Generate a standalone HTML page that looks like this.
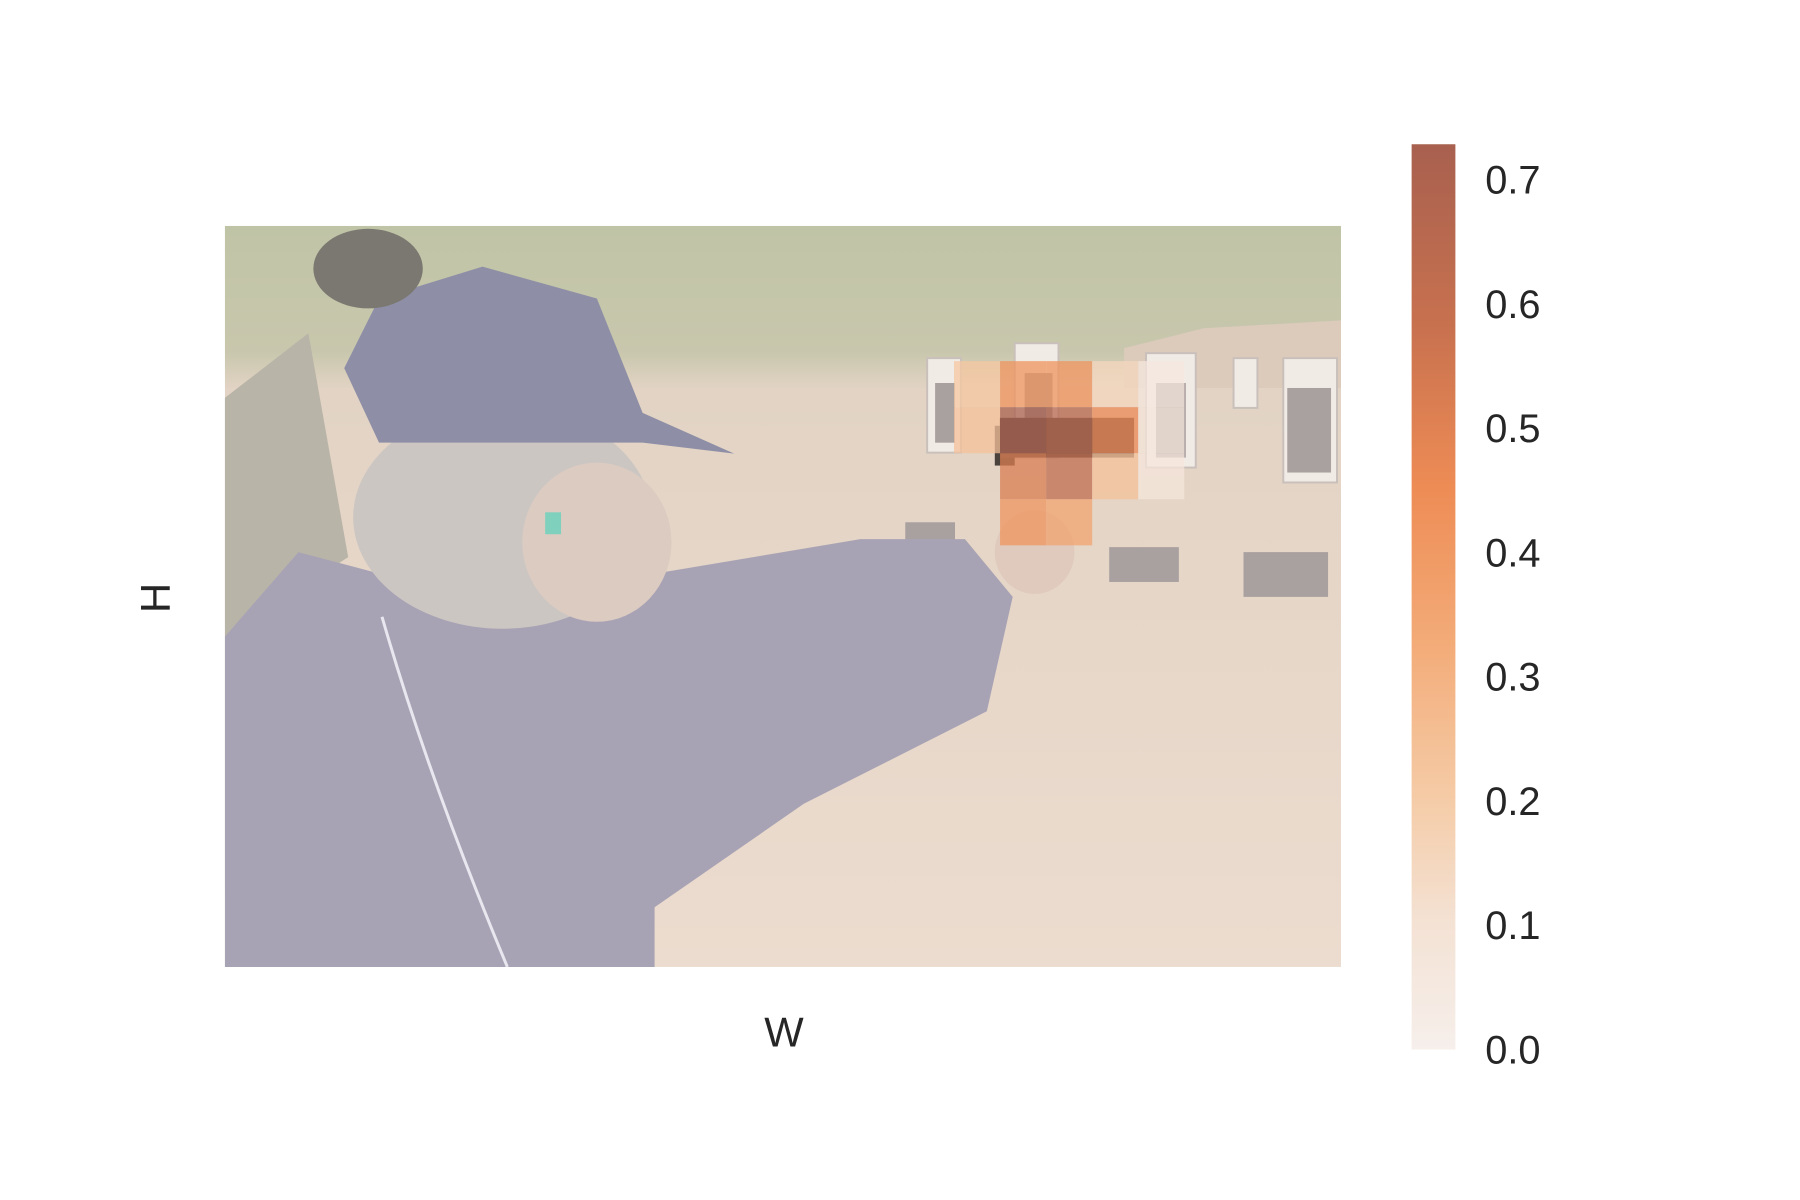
<!DOCTYPE html>
<html><head><meta charset="utf-8"><style>
html,body{margin:0;padding:0;background:#fff;}
svg{display:block;font-family:"Liberation Sans",sans-serif;}
</style></head><body>
<svg id="chart" width="1800" height="1200" viewBox="0 0 1800 1200" xmlns="http://www.w3.org/2000/svg">
<defs>
<linearGradient id="cmap" x1="0" y1="1" x2="0" y2="0">
<stop offset="0" stop-color="#f6efeb"/>
<stop offset="0.14" stop-color="#f4e2d4"/>
<stop offset="0.28" stop-color="#f5cba6"/>
<stop offset="0.45" stop-color="#f3ab78"/>
<stop offset="0.62" stop-color="#ee8c55"/>
<stop offset="0.8" stop-color="#c8714f"/>
<stop offset="1" stop-color="#a8604f"/>
</linearGradient>
<linearGradient id="bg" x1="0" y1="0" x2="0" y2="1">
<stop offset="0" stop-color="#c0c4a6"/>
<stop offset="0.17" stop-color="#c8c7ad"/>
<stop offset="0.22" stop-color="#e2d3c4"/>
<stop offset="1" stop-color="#ecdccf"/>
</linearGradient>
<clipPath id="imgclip"><rect x="226" y="227" width="1122" height="745"/></clipPath>
</defs>
<g transform="scale(0.9948)">
<g clip-path="url(#imgclip)">
<rect x="226" y="227" width="1122" height="745" fill="url(#bg)"/>
<polygon points="1130,350 1210,330 1348,322 1348,390 1130,390" fill="#dccbbb"/>
<g fill="#f1ebe6" stroke="#c9c0bb" stroke-width="2">
<rect x="932" y="360" width="34" height="95"/><rect x="1020" y="345" width="44" height="115"/>
<rect x="1152" y="355" width="50" height="115"/><rect x="1240" y="360" width="24" height="50"/>
<rect x="1290" y="360" width="54" height="125"/>
</g>
<g fill="#a9a0a0">
<rect x="940" y="385" width="20" height="60"/><rect x="1030" y="375" width="28" height="80"/>
<rect x="1162" y="385" width="30" height="75"/><rect x="1294" y="390" width="44" height="85"/>
<rect x="1115" y="550" width="70" height="35"/><rect x="1250" y="555" width="85" height="45"/>
<rect x="910" y="525" width="50" height="20"/>
</g>
<polygon points="226,400 310,335 350,560 226,640" fill="#b9b4a8"/>
<polygon points="226,640 300,555 470,600 650,578 865,542 970,542 1018,600 992,715 808,808 658,912 658,972 226,972" fill="#a8a3b4"/>
<ellipse cx="505" cy="520" rx="150" ry="112" fill="#ccc6c3"/>
<ellipse cx="600" cy="545" rx="75" ry="80" fill="#dccbc1"/>
<polygon points="346,370 381,300 485,268 600,300 646,415 738,456 646,445 381,445" fill="#8e8fa6"/>
<rect x="548" y="515" width="16" height="22" fill="#7fd0bd"/>
<ellipse cx="1040" cy="555" rx="40" ry="42" fill="#e0c9bd"/>
<ellipse cx="370" cy="270" rx="55" ry="40" fill="#7a7870"/>
<path d="M384,620 Q430,780 510,972" stroke="#e8e6ee" stroke-width="3" fill="none"/>
<rect x="1000" y="428" width="20" height="40" fill="#4a423d"/>
<rect x="1005" y="420" width="135" height="40" fill="#5a4a45"/>
</g>
<g id="cells"></g>
<rect x="1419" y="145" width="44" height="910" fill="url(#cmap)"/>
<g id="cbticks" font-size="40" fill="#262626"></g>
<text x="788" y="1052" font-size="42" fill="#262626" text-anchor="middle">W</text>
<text x="0" y="0" font-size="42" fill="#262626" text-anchor="middle" transform="translate(171,601) rotate(-90)">H</text>
</g>
</svg>
<script>
const cellRows = [0,0,0,0,0, 1,1,1,1,1, 2,2,2,2, 3,3];
const cellCols = [0,1,2,3,4, 0,1,2,3,4, 1,2,3,4, 1,2];
const cellValues = [0.22,0.42,0.42,0.15,0.06, 0.24,0.72,0.66,0.46,0.08, 0.52,0.62,0.24,0.07, 0.42,0.36];
const tickValues = [0.0,0.1,0.2,0.3,0.4,0.5,0.6,0.7];
const tickLabels = ["0.0","0.1","0.2","0.3","0.4","0.5","0.6","0.7"];
const vmax = 0.7286;
const gx0 = 959, gy0 = 363, cw = 46.3, ch = 46.3;
function xCell(c){return gx0 + c*cw;}
function yCell(r){return gy0 + r*ch;}
function yBar(v){return 1055 - (v/vmax)*910;}
const stops=[[0,[246,239,235]],[0.14,[244,226,212]],[0.28,[245,203,166]],[0.45,[243,171,120]],[0.62,[238,140,85]],[0.8,[200,113,79]],[1,[168,96,79]]];
function cmap(t){t=Math.max(0,Math.min(1,t));for(let i=1;i<stops.length;i++){if(t<=stops[i][0]){const a=stops[i-1],b=stops[i];const f=(t-a[0])/(b[0]-a[0]);return 'rgb('+a[1].map((v,k)=>Math.round(v+(b[1][k]-v)*f)).join(',')+')';}}return 'rgb(168,96,79)';}
const NS='http://www.w3.org/2000/svg';
const cg=document.getElementById('cells');
for(let i=0;i<cellValues.length;i++){
const r=document.createElementNS(NS,'rect');


r.setAttribute('x',xCell(cellCols[i]));r.setAttribute('y',yCell(cellRows[i]));
r.setAttribute('width',cw);r.setAttribute('height',ch);
r.setAttribute('fill',cmap(cellValues[i]/vmax));
r.setAttribute('opacity',0.75);
cg.appendChild(r);}
const tg=document.getElementById('cbticks');
for(let i=0;i<tickValues.length;i++){
const t=document.createElementNS(NS,'text');


t.setAttribute('x',1493);t.setAttribute('y',yBar(tickValues[i])+14);
t.textContent=tickLabels[i];tg.appendChild(t);}
</script>
</body></html>
